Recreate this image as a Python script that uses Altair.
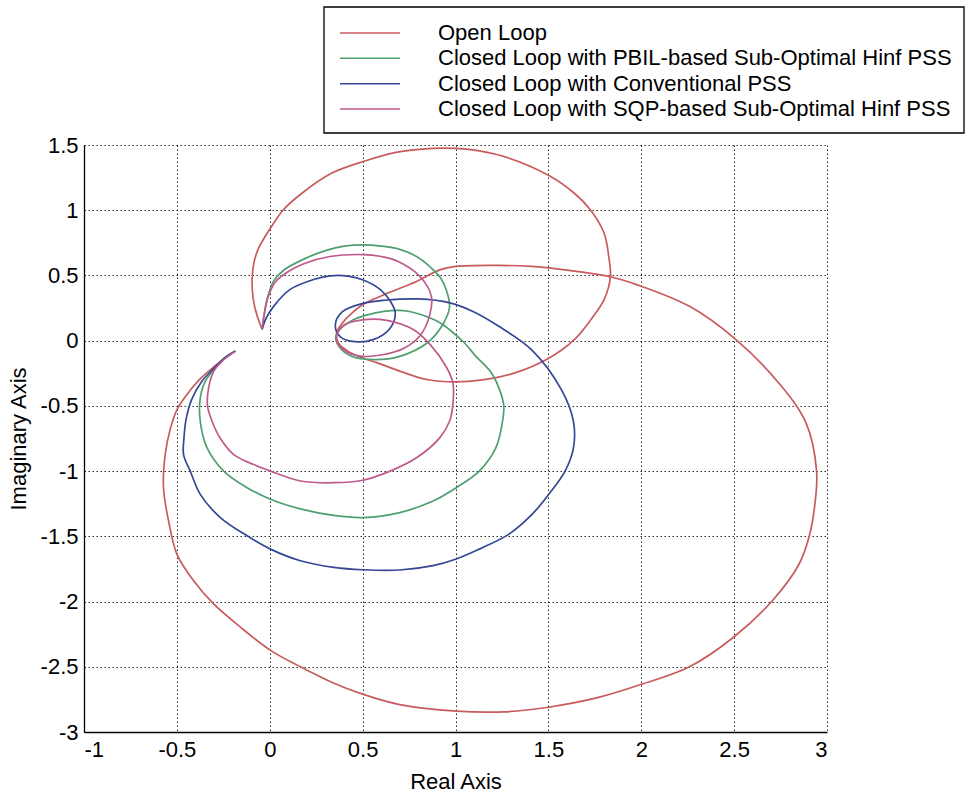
import altair as alt
import pandas as pd

# Nyquist loci: each curve runs from the upper start point near the origin,
# around its spiral, to the lower start point at about (-0.19, -0.08).
SERIES = [
    "Open Loop",
    "Closed Loop with PBIL-based Sub-Optimal Hinf PSS",
    "Closed Loop with Conventional PSS",
    "Closed Loop with SQP-based Sub-Optimal Hinf PSS",
]
COLORS = ["#c95b5e", "#4f9f70", "#354795", "#bf5a8c"]

X_TICKS = [-1, -0.5, 0, 0.5, 1, 1.5, 2, 2.5, 3]
Y_TICKS = [-3, -2.5, -2, -1.5, -1, -0.5, 0, 0.5, 1, 1.5]

OPEN_LOOP = [
    (-0.041, 0.087), (-0.07, 0.2), (-0.09, 0.33), (-0.095, 0.47), (-0.085, 0.6),
    (-0.06, 0.71), (-0.02, 0.81), (0.03, 0.92), (0.071, 1.0), (0.173, 1.13),
    (0.332, 1.283), (0.5, 1.372), (0.703, 1.449), (1.0, 1.474), (1.233, 1.423),
    (1.498, 1.27), (1.64, 1.13), (1.728, 1.0), (1.8, 0.824), (1.825, 0.645),
    (1.834, 0.49), (1.8, 0.314), (1.728, 0.16), (1.64, 0.008), (1.49, -0.145),
    (1.32, -0.247), (1.145, -0.30), (1.0, -0.316), (0.845, -0.298), (0.703, -0.235),
    (0.58, -0.17), (0.5, -0.133), (0.42, -0.08), (0.37, -0.02), (0.36, 0.06),
    (0.40, 0.15), (0.45, 0.22), (0.5, 0.276), (0.615, 0.352), (0.79, 0.454),
    (0.915, 0.543), (1.0, 0.569), (1.233, 0.577), (1.41, 0.569), (1.587, 0.543),
    (1.834, 0.49), (1.975, 0.43), (2.26, 0.263), (2.51, 0.008), (2.74, -0.324),
    (2.887, -0.63), (2.944, -1.0), (2.935, -1.25), (2.905, -1.496), (2.85, -1.712),
    (2.708, -1.99), (2.5, -2.27), (2.26, -2.5), (2.0, -2.635), (1.77, -2.735),
    (1.5, -2.81), (1.27, -2.845), (1.004, -2.84), (0.70, -2.79), (0.5, -2.71),
    (0.33, -2.616), (0.165, -2.5), (0.004, -2.374), (-0.158, -2.196), (-0.302, -2.018),
    (-0.41, -1.84), (-0.5, -1.636), (-0.545, -1.38), (-0.572, -1.127), (-0.563, -0.873),
    (-0.536, -0.68), (-0.50, -0.53), (-0.45, -0.42), (-0.38, -0.3), (-0.30, -0.2),
    (-0.24, -0.13), (-0.185, -0.08),
]

PBIL_PSS = [
    (-0.041, 0.087), (-0.03, 0.2), (-0.014, 0.32), (0.022, 0.46), (0.075, 0.54),
    (0.183, 0.625), (0.3, 0.69), (0.4, 0.725), (0.5, 0.735), (0.60, 0.725),
    (0.70, 0.70), (0.79, 0.645), (0.86, 0.57), (0.92, 0.48), (0.95, 0.39),
    (0.968, 0.26), (0.93, 0.12), (0.845, -0.02), (0.70, -0.12), (0.56, -0.145),
    (0.44, -0.12), (0.376, -0.05), (0.355, 0.02), (0.38, 0.09), (0.45, 0.16),
    (0.505, 0.19), (0.615, 0.225), (0.72, 0.23), (0.79, 0.21), (0.9, 0.15),
    (0.968, 0.084), (1.05, -0.02), (1.11, -0.12), (1.19, -0.24), (1.233, -0.36),
    (1.26, -0.5), (1.253, -0.618), (1.217, -0.822), (1.128, -1.0), (1.004, -1.127),
    (0.879, -1.229), (0.70, -1.318), (0.5, -1.356), (0.345, -1.34), (0.165, -1.29),
    (0.004, -1.216), (-0.122, -1.127), (-0.248, -1.0), (-0.338, -0.82), (-0.374, -0.618),
    (-0.375, -0.45), (-0.35, -0.32), (-0.30, -0.22), (-0.25, -0.14), (-0.185, -0.08),
]

CONVENTIONAL_PSS = [
    (-0.041, 0.087), (-0.02, 0.17), (0.022, 0.265), (0.11, 0.393), (0.237, 0.469),
    (0.327, 0.497), (0.42, 0.495), (0.5, 0.467), (0.597, 0.39), (0.65, 0.30),
    (0.676, 0.21), (0.645, 0.09), (0.56, 0.01), (0.46, -0.008), (0.38, 0.03),
    (0.353, 0.12), (0.39, 0.22), (0.5, 0.285), (0.62, 0.31), (0.8, 0.32),
    (0.97, 0.29), (1.1, 0.22), (1.233, 0.11), (1.41, -0.07), (1.57, -0.375),
    (1.635, -0.618), (1.635, -0.822), (1.59, -1.0), (1.502, -1.178), (1.413, -1.33),
    (1.288, -1.483), (1.128, -1.598), (1.004, -1.674), (0.879, -1.725), (0.70, -1.758),
    (0.5, -1.756), (0.345, -1.738), (0.165, -1.687), (0.004, -1.598), (-0.122, -1.496),
    (-0.266, -1.356), (-0.374, -1.178), (-0.428, -1.0), (-0.464, -0.873), (-0.462, -0.75),
    (-0.45, -0.6), (-0.42, -0.45), (-0.37, -0.32), (-0.30, -0.21), (-0.24, -0.13),
    (-0.185, -0.08),
]

SQP_PSS = [
    (-0.041, 0.087), (-0.03, 0.2), (-0.01, 0.33), (0.03, 0.45), (0.1, 0.53),
    (0.183, 0.59), (0.324, 0.645), (0.5, 0.66), (0.6, 0.645), (0.686, 0.61),
    (0.81, 0.49), (0.87, 0.34), (0.86, 0.19), (0.81, 0.04), (0.72, -0.06),
    (0.6, -0.11), (0.5, -0.12), (0.42, -0.09), (0.37, -0.03), (0.36, 0.04),
    (0.40, 0.12), (0.5, 0.16), (0.63, 0.156), (0.775, 0.084), (0.864, -0.03),
    (0.95, -0.2), (0.986, -0.324), (0.985, -0.5), (0.968, -0.618), (0.915, -0.745),
    (0.79, -0.898), (0.648, -1.0), (0.5, -1.07), (0.345, -1.089), (0.167, -1.076),
    (0.004, -1.0), (-0.086, -0.95), (-0.194, -0.873), (-0.27, -0.74), (-0.31, -0.62),
    (-0.335, -0.5), (-0.33, -0.37), (-0.30, -0.23), (-0.25, -0.15), (-0.185, -0.08),
]

rows = []
for name, pts in zip(SERIES, [OPEN_LOOP, PBIL_PSS, CONVENTIONAL_PSS, SQP_PSS]):
    for i, (re, im) in enumerate(pts):
        rows.append({"curve": name, "i": i, "re": re, "im": im})
df = pd.DataFrame(rows)
legend_df = pd.DataFrame({"curve": SERIES, "row": list(range(len(SERIES)))})

FONT = "Liberation Sans"
color_scale = alt.Scale(domain=SERIES, range=COLORS)

loci = (
    alt.Chart(df)
    .mark_line(strokeWidth=1.7, interpolate="catmull-rom")
    .encode(
        x=alt.X(
            "re:Q",
            scale=alt.Scale(domain=[-1, 3], nice=False, zero=False),
            axis=alt.Axis(
                values=X_TICKS,
                title="Real Axis",
                labelExpr="datum.value + ''",
                titleY=49,
                titleBaseline="middle",
                labelPadding=7,
            ),
        ),
        y=alt.Y(
            "im:Q",
            scale=alt.Scale(domain=[-3, 1.5], nice=False, zero=False),
            axis=alt.Axis(
                values=Y_TICKS,
                title="Imaginary Axis",
                labelExpr="datum.value + ''",
                titleX=-66,
                titleBaseline="middle",
                labelPadding=6,
            ),
        ),
        color=alt.Color("curve:N", scale=color_scale, legend=None),
        order=alt.Order("i:Q"),
    )
)

# Boxed key above the axes, one row per curve.
legend_row = alt.Y("row:Q", scale=alt.Scale(domain=[0, 3], range=[-112, -36]), axis=None)

legend_box = (
    alt.Chart(pd.DataFrame({"k": [0]}))
    .mark_rect(fill="white", stroke="black", strokeWidth=1.3)
    .encode(x=alt.value(240), x2=alt.value(880), y=alt.value(-138), y2=alt.value(-12))
)

legend_lines = (
    alt.Chart(legend_df)
    .mark_rule(strokeWidth=1.5)
    .encode(
        x=alt.value(256),
        x2=alt.value(316),
        y=legend_row,
        color=alt.Color("curve:N", scale=color_scale, legend=None),
    )
)

legend_text = (
    alt.Chart(legend_df)
    .mark_text(align="left", baseline="middle", font=FONT, fontSize=22, color="black")
    .encode(x=alt.value(354), y=legend_row, text="curve:N")
)

chart = (
    alt.layer(loci, legend_box, legend_lines, legend_text)
    .resolve_scale(y="independent")
    .properties(
        width=743,
        height=587,
        autosize=alt.AutoSizeParams(type="none"),
        padding={"left": 84, "top": 145, "right": 139, "bottom": 63},
        background="white",
    )
    .configure_view(stroke=None)
    .configure_axis(
        grid=True,
        gridColor="black",
        gridDash=[1.5, 2.5],
        gridWidth=1,
        gridOpacity=0.85,
        domainColor="black",
        domainWidth=1.3,
        ticks=False,
        tickSize=0,
        labelFont=FONT,
        labelFontSize=22,
        labelColor="black",
        titleFont=FONT,
        titleFontSize=22,
        titleFontWeight="normal",
        titleColor="black",
    )
)

chart.save("out.html", embed_options={"renderer": "svg", "actions": False})
